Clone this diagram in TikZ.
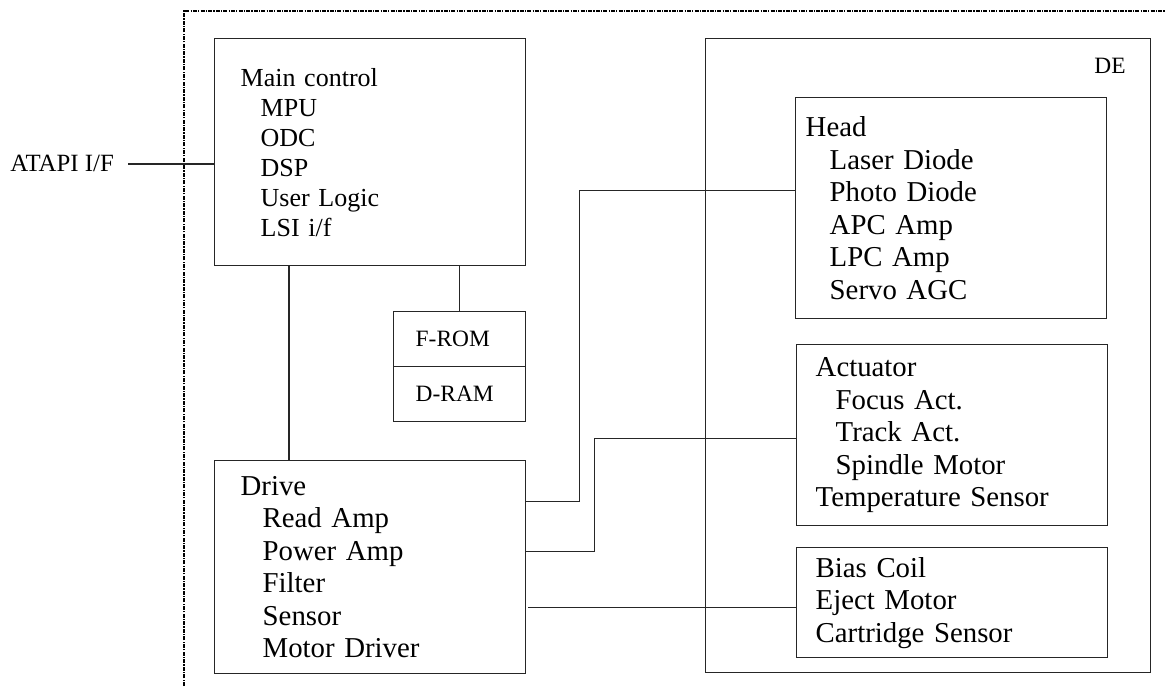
\documentclass[tikz,border=0pt]{standalone}
\usepackage{fontspec}
\setmainfont{Liberation Serif}
\begin{document}
\begin{tikzpicture}[x=0.5pt,y=-0.5pt,
  box/.style={draw=black!85,line width=0.7pt,rectangle,anchor=north west,align=left,inner ysep=0pt,font=\fontsize{14.4}{16.25}\selectfont},
  lbl/.style={font=\fontsize{11.7}{13}\selectfont,inner sep=0pt},
  wire/.style={draw=black!85,line width=0.7pt},
  edgeline/.style={draw=black,line width=0.6pt,dash pattern=on 2pt off 0.6pt on 0.6pt off 0.6pt}]
\useasboundingbox (0,0) rectangle (1165,686);
\draw[edgeline] (184,686) -- (184,11) -- (1165,11);
\node[box,minimum width=155.5pt,minimum height=113.5pt,text width=129.5pt,inner xsep=13pt,font=\fontsize{13}{15}\selectfont] (main) at (214,38)
  {Main control\\\hspace*{10pt}MPU\\\hspace*{10pt}ODC\\\hspace*{10pt}DSP\\\hspace*{10pt}User Logic\\\hspace*{10pt}LSI i/f};
\node[box,minimum width=66pt,minimum height=27.5pt,text width=44pt,inner xsep=11pt,font=\fontsize{11.7}{13}\selectfont] (from) at (393,311) {F-ROM};
\node[box,minimum width=66pt,minimum height=27.5pt,text width=44pt,inner xsep=11pt,font=\fontsize{11.7}{13}\selectfont] (dram) at (393,366) {D-RAM};
\node[box,minimum width=155.5pt,minimum height=106.5pt,text width=129.5pt,inner xsep=13pt] (drive) at (214,460)
  {Drive\\\hspace*{11pt}Read Amp\\\hspace*{11pt}Power Amp\\\hspace*{11pt}Filter\\\hspace*{11pt}Sensor\\\hspace*{11pt}Motor Driver};
\node[box,minimum width=222.5pt,minimum height=317pt] (de) at (705,38) {};
\node[lbl,anchor=east] (delabel) at (1126,66) {DE};
\node[box,minimum width=155.5pt,minimum height=110.5pt,text width=145.5pt,inner xsep=5pt] (head) at (795,97)
  {Head\\\hspace*{12pt}Laser Diode\\\hspace*{12pt}Photo Diode\\\hspace*{12pt}APC Amp\\\hspace*{12pt}LPC Amp\\\hspace*{12pt}Servo AGC};
\node[box,minimum width=155.5pt,minimum height=90.5pt,text width=136.5pt,inner xsep=9.5pt] (act) at (796,344)
  {Actuator\\\hspace*{10pt}Focus Act.\\\hspace*{10pt}Track Act.\\\hspace*{10pt}Spindle Motor\\Temperature Sensor};
\node[box,minimum width=155.5pt,minimum height=55pt,text width=136.5pt,inner xsep=9.5pt] (bias) at (796,547)
  {Bias Coil\\Eject Motor\\Cartridge Sensor};
\node[lbl,anchor=west,font=\fontsize{12.4}{14}\selectfont] (atapi) at (10,163) {ATAPI I/F};
% connections
\draw[wire] ([xshift=7pt,yshift=-0.5pt]atapi.east) -- ([yshift=-0.5pt]atapi.east -| main.west);
\draw[wire] ([xshift=37.5pt]main.south west) -- ([xshift=37.5pt]drive.north west);
\draw[wire] (from.north) -- (from.north |- main.south);
\draw[wire] ([yshift=32.75pt]drive.east) -- ++(26.5pt,0) |- ([yshift=8.75pt]head.west);
\draw[wire] ([yshift=7.75pt]drive.east) -- ++(34pt,0) |- ([yshift=-1.75pt]act.west);
\draw[wire] ([xshift=1pt,yshift=-20.25pt]drive.east) -- ([yshift=-20.25pt]drive.east -| bias.west);
\end{tikzpicture}
\end{document}
